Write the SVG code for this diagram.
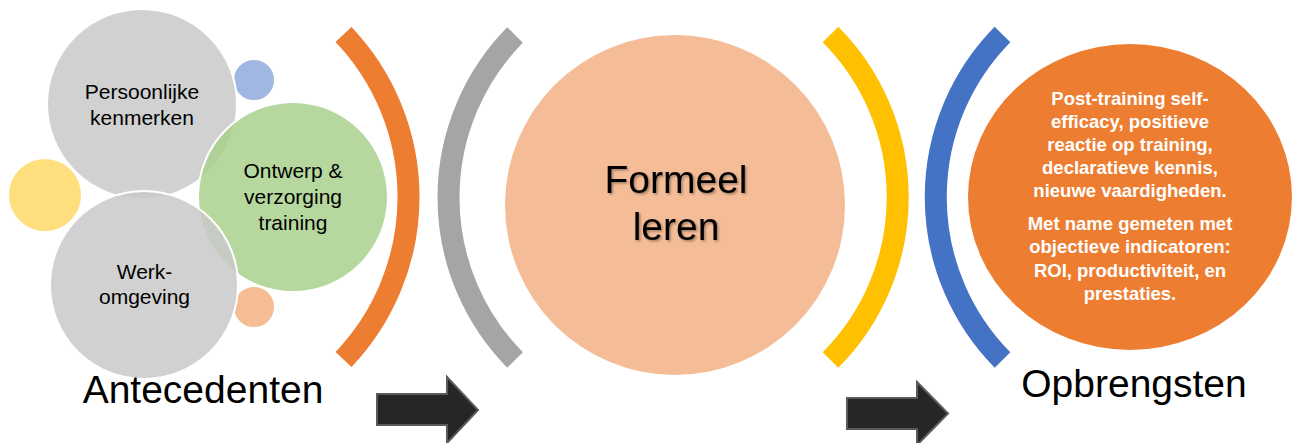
<svg xmlns="http://www.w3.org/2000/svg" width="1292" height="443" viewBox="0 0 1292 443">
<style>
.bub{stroke:#fff;stroke-width:2;fill-opacity:0.85}
.t{font-family:"Liberation Sans",Arial,sans-serif;fill:#000;text-anchor:middle}
.s{font-size:21px}
.big{font-size:39px}
.w{font-family:"Liberation Sans",Arial,sans-serif;font-weight:bold;fill:#fff;text-anchor:middle;font-size:18.5px}
.arc{fill:none;stroke-width:22;stroke-linecap:butt}
.arrow{fill:#262626;stroke:#5a5a5a;stroke-width:2}
</style>
<defs>
<filter id="sh" x="-10%" y="-10%" width="130%" height="130%">
<feDropShadow dx="1.5" dy="1.5" stdDeviation="1.2" flood-color="#000" flood-opacity="0.35"/>
</filter>
</defs>
<rect width="1292" height="443" fill="#fff"/>

<g id="antecedents">
<circle id="dot-blue" class="bub" cx="254" cy="80" r="21" fill="#8FAADC"/>
<circle id="dot-yellow" class="bub" cx="45" cy="195" r="37" fill="#FFD966"/>
<circle id="dot-peach" class="bub" cx="254" cy="307" r="21" fill="#F4B183"/>
<g id="persoonlijke">
<circle class="bub" cx="142" cy="104" r="95" fill="#C9C9C9"/>
<text class="t s" x="142" y="99">Persoonlijke</text>
<text class="t s" x="142" y="125">kenmerken</text>
</g>
<g id="ontwerp">
<circle class="bub" cx="293" cy="197" r="95" fill="#A9D18E"/>
</g>
<g id="werkomgeving">
<circle class="bub" cx="144" cy="285" r="94" fill="#C9C9C9"/>
<text class="t s" x="144.5" y="279">Werk-</text>
<text class="t s" x="144.5" y="304">omgeving</text>
</g>
<g id="ontwerp-text">
<text class="t s" x="293" y="178">Ontwerp &amp;</text>
<text class="t s" x="293" y="204">verzorging</text>
<text class="t s" x="293" y="230">training</text>
</g>
<text id="label-antecedenten" class="t big" x="203" y="403">Antecedenten</text>
</g>

<g id="formeel">
<circle cx="675" cy="205" r="170" fill="#F5BD97"/>
<g filter="url(#sh)">
<text class="t big" x="676" y="193">Formeel</text>
<text class="t big" x="676" y="240">leren</text>
</g>
</g>

<g id="opbrengsten">
<ellipse cx="1130" cy="197" rx="162" ry="153" fill="#ED7D31"/>
<text class="w" x="1130" y="105">Post-training self-</text>
<text class="w" x="1130" y="128">efficacy, positieve</text>
<text class="w" x="1130" y="151">reactie op training,</text>
<text class="w" x="1130" y="174">declaratieve kennis,</text>
<text class="w" x="1130" y="197">nieuwe vaardigheden.</text>
<text class="w" x="1130" y="230">Met name gemeten met</text>
<text class="w" x="1130" y="253">objectieve indicatoren:</text>
<text class="w" x="1130" y="277">ROI, productiviteit, en</text>
<text class="w" x="1130" y="300">prestaties.</text>
<text class="t big" x="1134" y="397">Opbrengsten</text>
</g>

<g id="connectors">
<path class="arc" stroke="#ED7D31" d="M343.5,34.5 A235.6,235.6 0 0 1 343.5,359.5"/>
<path class="arc" stroke="#A5A5A5" d="M515,35 A231.8,231.8 0 0 0 515,360"/>
<path class="arc" stroke="#FFC000" d="M830.5,34.5 A230.6,230.6 0 0 1 830.5,360"/>
<path class="arc" stroke="#4472C4" d="M1002.5,34.5 A231.8,231.8 0 0 0 1002.5,360"/>
<polygon class="arrow" points="377,394 447,394 447,377 478,410 447,443 447,425 377,425"/>
<polygon class="arrow" points="847,398 917,398 917,382 948,413.5 917,445 917,429 847,429"/>
</g>
</svg>
